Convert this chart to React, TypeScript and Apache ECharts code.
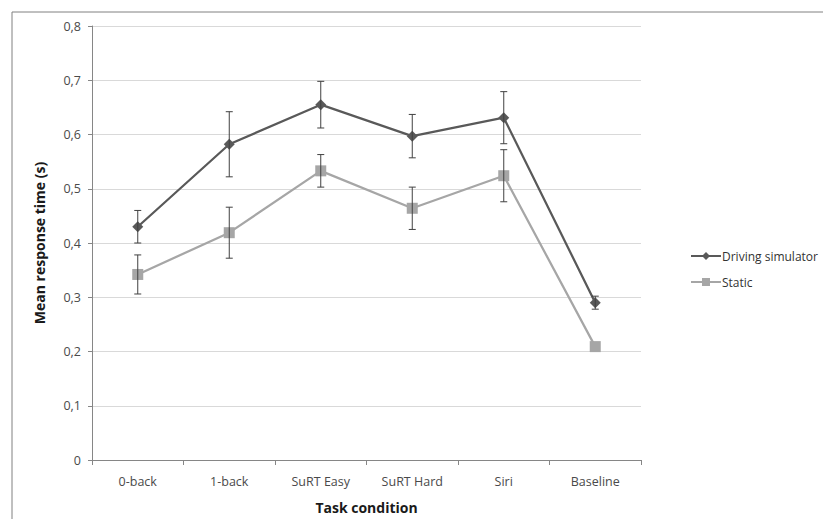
import React, { useEffect, useRef } from "react";
import * as echarts from "echarts";

const categories = ["0-back", "1-back", "SuRT Easy", "SuRT Hard", "Siri", "Baseline"];
const drivingValues = [0.43, 0.582, 0.655, 0.597, 0.631, 0.29];
const drivingErrors = [0.03, 0.06, 0.043, 0.04, 0.048, 0.012];
const staticValues = [0.342, 0.419, 0.533, 0.464, 0.524, 0.209];
const staticErrors = [0.036, 0.047, 0.03, 0.039, 0.048, 0];
const yTicks = [0, 0.1, 0.2, 0.3, 0.4, 0.5, 0.6, 0.7, 0.8];

const FONT = "'Open Sans', 'Noto Sans', sans-serif";

function errorData(values: number[], errors: number[]) {
  return values.map((v, i) => [i, v - errors[i], v + errors[i]]);
}

function errorRender(params: any, api: any) {
  const i = api.value(0);
  const lo = api.coord([i, api.value(1)]);
  const hi = api.coord([i, api.value(2)]);
  if (Math.abs(lo[1] - hi[1]) < 1) return null;
  const w = 3.5;
  const style = { stroke: "#404040", lineWidth: 1 };
  return {
    type: "group",
    children: [
      { type: "line", shape: { x1: lo[0], y1: lo[1], x2: hi[0], y2: hi[1] }, style },
      { type: "line", shape: { x1: lo[0] - w, y1: lo[1], x2: lo[0] + w, y2: lo[1] }, style },
      { type: "line", shape: { x1: hi[0] - w, y1: hi[1], x2: hi[0] + w, y2: hi[1] }, style },
    ],
  };
}

export default function App() {
  const ref = useRef<HTMLDivElement>(null);
  useEffect(() => {
    document.body.style.margin = "0";
    const chart = echarts.init(ref.current!, null, { renderer: "svg" });
    chart.setOption({
      animation: false,
      backgroundColor: "#ffffff",
      graphic: [
        {
          type: "rect",
          shape: { x: 12, y: 12, width: 900, height: 600 },
          style: { fill: "none", stroke: "#808080", lineWidth: 1 },
          silent: true,
        },
      ],
      grid: { left: 92, top: 26, right: 182, bottom: 56 },
      legend: {
        orient: "vertical",
        left: 685,
        top: 245,
        itemWidth: 30,
        itemHeight: 10,
        itemGap: 14,
        textStyle: { fontFamily: FONT, fontSize: 12, color: "#333", padding: [0, 0, 0, -4] },
        data: ["Driving simulator", "Static"],
      },
      xAxis: {
        type: "category",
        data: categories,
        boundaryGap: true,
        axisLine: { lineStyle: { color: "#868686" } },
        axisTick: { show: true, length: 5, lineStyle: { color: "#868686" } },
        axisLabel: { fontFamily: FONT, fontSize: 12.5, color: "#4a4a4a", margin: 15 },
        name: "Task condition",
        nameLocation: "middle",
        nameGap: 40,
        nameTextStyle: { fontFamily: FONT, fontSize: 14, fontWeight: "bold", color: "#1a1a1a" },
      },
      yAxis: {
        type: "value",
        min: 0,
        max: 0.8,
        interval: 0.1,
        axisLine: { show: true, lineStyle: { color: "#868686" } },
        axisTick: { show: true, length: 4, lineStyle: { color: "#868686" } },
        splitLine: { lineStyle: { color: "#d9d9d9", width: 1 } },
        axisLabel: {
          fontFamily: FONT,
          fontSize: 12.5,
          color: "#4a4a4a",
          margin: 11,
          formatter: (v: number) => {
            const idx = yTicks.findIndex((t) => Math.abs(t - v) < 1e-9);
            const t = idx >= 0 ? yTicks[idx] : v;
            return t === 0 ? "0" : t.toFixed(1).replace(".", ",");
          },
        },
        name: "Mean response time (s)",
        nameLocation: "middle",
        nameGap: 46,
        nameRotate: 90,
        nameTextStyle: { fontFamily: FONT, fontSize: 14, fontWeight: "bold", color: "#1a1a1a" },
      },
      series: [
        {
          name: "Driving simulator",
          type: "line",
          data: drivingValues,
          symbol: "diamond",
          symbolSize: 11,
          itemStyle: { color: "#595959" },
          lineStyle: { color: "#595959", width: 2.25 },
          z: 3,
        },
        {
          name: "Static",
          type: "line",
          data: staticValues,
          symbol: "rect",
          symbolSize: 11,
          itemStyle: { color: "#a6a6a6" },
          lineStyle: { color: "#a6a6a6", width: 2.25 },
          z: 2,
        },
        {
          type: "custom",
          renderItem: errorRender,
          data: errorData(drivingValues, drivingErrors),
          encode: { x: 0, y: [1, 2] },
          z: 4,
          silent: true,
        },
        {
          type: "custom",
          renderItem: errorRender,
          data: errorData(staticValues, staticErrors),
          encode: { x: 0, y: [1, 2] },
          z: 4,
          silent: true,
        },
      ],
    });
    return () => chart.dispose();
  }, []);
  return <div ref={ref} style={{ width: 823, height: 519 }} />;
}
